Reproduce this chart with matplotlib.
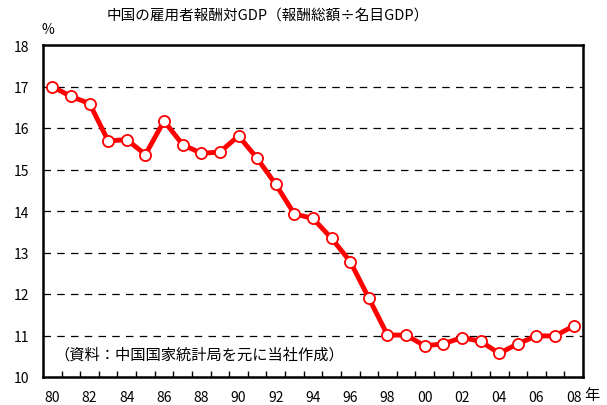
import matplotlib
matplotlib.use("Agg")
import matplotlib.pyplot as plt

plt.rcParams['font.family'] = ['Noto Sans CJK JP', 'DejaVu Sans']

years = list(range(1980, 2009))
share = [17.00, 16.76, 16.59, 15.69, 15.72, 15.36, 16.17, 15.60, 15.39, 15.42,
         15.81, 15.27, 14.64, 13.93, 13.82, 13.34, 12.78, 11.90, 11.01, 11.01,
         10.75, 10.80, 10.95, 10.86, 10.57, 10.80, 10.99, 10.99, 11.23]
tick_labels = [f"{y % 100:02d}" for y in years]

title = "中国の雇用者報酬対GDP（報酬総額÷名目GDP）"
source = "（資料：中国国家統計局を元に当社作成）"

fig = plt.figure(figsize=(6.07, 4.06), dpi=100)
ax = fig.add_axes([43 / 607, 1 - 378 / 406, 540 / 607, 332 / 406])

x = list(range(len(years)))
ax.plot(x, share, color="#ff0000", lw=3.5, marker="o", ms=8,
        mfc="white", mec="#ff0000", mew=1.3, zorder=3, clip_on=False)

ax.set_xlim(-0.5, len(years) - 0.5)
ax.set_ylim(10, 18)
ax.set_yticks(range(10, 19))
ax.set_yticklabels([str(v) for v in range(10, 19)], fontsize=10)

for v in range(11, 18):
    ax.axhline(v, color="black", lw=0.9, ls=(0, (6, 5)), zorder=1)

# category boundary ticks on the x axis
ax.set_xticks([i + 0.5 for i in x[:-1]])
ax.set_xticklabels([])
ax.tick_params(axis="x", direction="in", length=4, width=1)
ax.tick_params(axis="y", length=0, pad=10)

for i in x[::2]:
    ax.text(i, 9.53, tick_labels[i], ha="center", va="center", fontsize=10,
            transform=ax.transData)

for s in ax.spines.values():
    s.set_color("black")
    s.set_linewidth(1.8)

fig.text(592 / 607, 1 - 396 / 406, "年", ha="center", va="center", fontsize=11)
fig.text(48 / 607, 1 - 30 / 406, "%", ha="center", va="center", fontsize=10)
fig.text(268 / 607, 1 - 16 / 406, title, ha="center", va="center", fontsize=10.5)
ax.text(0.1, 10.55, source, ha="left", va="center", fontsize=11)

fig.savefig("out.png", dpi=100)
